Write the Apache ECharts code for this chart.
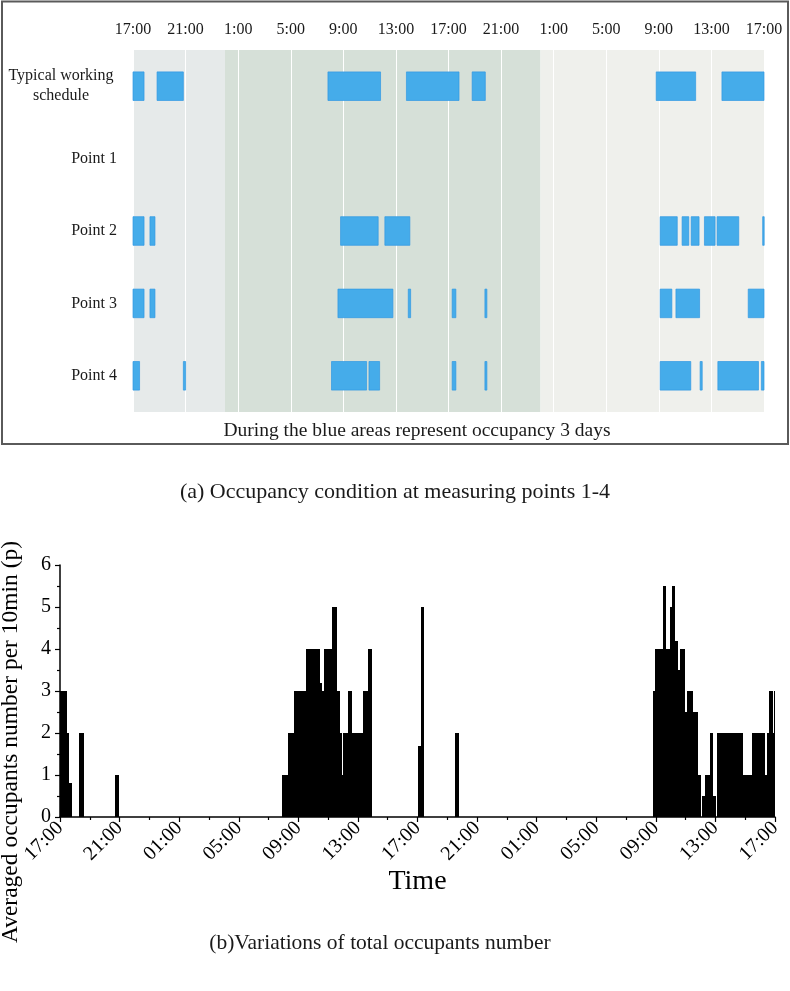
<!DOCTYPE html>
<html>
<head>
<meta charset="utf-8">
<title>Occupancy at measuring points</title>
<script src="https://cdn.jsdelivr.net/npm/echarts@6/dist/echarts.min.js"></script>
<style>
  html, body { margin: 0; padding: 0; background: #fff; }
  #chart { width: 790px; height: 991px; }
</style>
</head>
<body>
<div id="chart"></div>
<script>
// all times are hours counted from 17:00 of the first day (0 .. 48)
const topTickLabels = ['17:00', '21:00', '1:00', '5:00', '9:00', '13:00', '17:00', '21:00', '1:00', '5:00', '9:00', '13:00', '17:00'];
const bottomTickLabels = ['17:00', '21:00', '01:00', '05:00', '09:00', '13:00', '17:00', '21:00', '01:00', '05:00', '09:00', '13:00', '17:00'];
const rowNames = ['Typical working\nschedule', 'Point 1', 'Point 2', 'Point 3', 'Point 4'];

// shaded day bands behind panel (a)
const dayBands = [[0, 7], [7, 31], [31, 48]];
const bandColors = ['#e6eaea', '#d6e0d8', '#eff0ec'];

// occupied periods [start, end]
const scheduleBlocks = [[0, 0.84], [1.83, 3.83], [14.83, 18.83], [20.8, 24.8], [25.8, 26.8], [39.8, 42.8], [44.8, 48]];
const point1Blocks = [];
const point2Blocks = [[0, 0.84], [1.29, 1.67], [15.79, 18.65], [19.16, 21.06], [40.1, 41.4], [41.77, 42.28], [42.46, 43.06], [43.47, 44.28], [44.43, 46.08], [47.9, 48]];
const point3Blocks = [[0, 0.84], [1.29, 1.67], [15.59, 19.77], [20.94, 21.12], [24.28, 24.56], [26.77, 26.92], [40.1, 40.99], [41.3, 43.1], [46.8, 48]];
const point4Blocks = [[0, 0.5], [3.83, 4.0], [15.1, 17.77], [17.95, 18.76], [24.28, 24.56], [26.77, 26.92], [40.1, 42.43], [43.14, 43.3], [44.49, 47.58], [47.8, 48]];

// averaged occupants per 10 min: [start, end, value]
const occupantsDay1 = [[0, 0.45, 3], [0.45, 0.6, 2], [0.6, 0.8, 0.8], [1.25, 1.63, 2], [3.71, 3.96, 1]];
const occupantsDay2 = [
  [14.88, 15.32, 1], [15.32, 15.7, 2], [15.7, 16.51, 3], [16.51, 17.45, 4], [17.45, 17.58, 3.2],
  [17.58, 17.72, 3], [17.72, 18.23, 4], [18.23, 18.59, 5], [18.59, 18.79, 3], [18.79, 18.92, 2],
  [18.92, 19.0, 1], [19.0, 19.35, 2], [19.35, 19.62, 3], [19.62, 20.36, 2], [20.36, 20.65, 3],
  [20.65, 20.92, 4], [24.0, 24.21, 1.7], [24.21, 24.43, 5], [26.53, 26.78, 2]
];
const occupantsDay3 = [
  [39.78, 39.93, 3], [39.93, 40.45, 4], [40.45, 40.67, 5.5], [40.67, 40.94, 4], [40.94, 41.09, 5],
  [41.09, 41.32, 5.5], [41.32, 41.5, 4.2], [41.5, 41.61, 3.5], [41.61, 41.99, 4], [41.99, 42.1, 2.5],
  [42.1, 42.5, 3], [42.5, 42.84, 2.5], [42.84, 43.02, 1], [43.07, 43.29, 0.5], [43.29, 43.62, 1],
  [43.62, 43.85, 2], [43.85, 44.03, 0.5], [44.11, 45.82, 2], [45.82, 46.46, 1], [46.46, 47.36, 2],
  [47.36, 47.45, 1], [47.45, 47.6, 2], [47.6, 47.87, 3], [47.87, 47.94, 2], [47.94, 48, 3]
];

const serif = '"Liberation Serif", "DejaVu Serif", serif';

const blockData = [];
[scheduleBlocks, point1Blocks, point2Blocks, point3Blocks, point4Blocks].forEach((blocks, row) => {
  blocks.forEach((b) => blockData.push([b[0], b[1], row]));
});
const occupantData = [...occupantsDay1, ...occupantsDay2, ...occupantsDay3];

const chart = echarts.init(document.getElementById('chart'), null, { renderer: 'canvas' });

const option = {
  animation: false,
  backgroundColor: '#fff',
  grid: [
    { left: 133, top: 50, width: 631, height: 362 },
    { left: 60, top: 565, width: 715, height: 252 }
  ],
  xAxis: [
    {
      gridIndex: 0,
      type: 'value',
      position: 'top',
      min: 0,
      max: 48,
      interval: 4,
      z: 1,
      axisLine: { show: false },
      axisTick: { show: false },
      splitLine: { show: true, lineStyle: { color: '#ffffff', width: 1 } },
      axisLabel: {
        margin: 12,
        color: '#1a1a1a',
        fontFamily: serif,
        fontSize: 16,
        formatter: (v) => topTickLabels[Math.round(v / 4)]
      }
    },
    {
      gridIndex: 1,
      type: 'value',
      min: 0,
      max: 48,
      interval: 4,
      name: 'Time',
      nameLocation: 'middle',
      nameGap: 35,
      nameTextStyle: { fontFamily: serif, fontSize: 28, color: '#000' },
      axisLine: { show: true, lineStyle: { color: '#000', width: 1.5 } },
      axisTick: { show: true, length: 5, lineStyle: { color: '#000', width: 1.2 } },
      minorTick: { show: true, splitNumber: 2, length: 3, lineStyle: { color: '#000', width: 1.2 } },
      splitLine: { show: false },
      axisLabel: {
        rotate: 45,
        margin: 8,
        color: '#000',
        fontFamily: serif,
        fontSize: 20,
        formatter: (v) => bottomTickLabels[Math.round(v / 4)]
      }
    }
  ],
  yAxis: [
    {
      gridIndex: 0,
      type: 'category',
      inverse: true,
      data: rowNames,
      axisLine: { show: false },
      axisTick: { show: false },
      splitLine: { show: false },
      axisLabel: {
        margin: 16,
        color: '#1a1a1a',
        fontFamily: serif,
        fontSize: 16,
        formatter: (v) => (v.indexOf('\n') >= 0 ? v.split('\n').map((s) => '{c|' + s + '}').join('\n') : v),
        rich: {
          c: { width: 112, align: 'center', fontFamily: serif, fontSize: 16, lineHeight: 20, color: '#1a1a1a' }
        }
      }
    },
    {
      gridIndex: 1,
      type: 'value',
      min: 0,
      max: 6,
      interval: 1,
      axisLine: { show: true, lineStyle: { color: '#000', width: 1.5 } },
      axisTick: { show: true, length: 5, lineStyle: { color: '#000', width: 1.2 } },
      minorTick: { show: true, splitNumber: 2, length: 3, lineStyle: { color: '#000', width: 1.2 } },
      splitLine: { show: false },
      axisLabel: { margin: 9, color: '#000', fontFamily: serif, fontSize: 20 }
    }
  ],
  series: [
    {
      // day shading
      type: 'custom',
      xAxisIndex: 0,
      yAxisIndex: 0,
      z: 0,
      silent: true,
      data: dayBands,
      encode: { x: [0, 1] },
      renderItem: (params, api) => {
        const cs = params.coordSys;
        const x0 = api.coord([api.value(0), 0])[0];
        const x1 = api.coord([api.value(1), 0])[0];
        return {
          type: 'rect',
          shape: { x: x0, y: cs.y, width: x1 - x0, height: cs.height },
          style: { fill: bandColors[params.dataIndex] }
        };
      }
    },
    {
      // occupancy blocks
      type: 'custom',
      xAxisIndex: 0,
      yAxisIndex: 0,
      z: 2,
      data: blockData,
      encode: { x: [0, 1], y: 2 },
      renderItem: (params, api) => {
        const p0 = api.coord([api.value(0), api.value(2)]);
        const p1 = api.coord([api.value(1), api.value(2)]);
        const h = api.size([0, 1])[1] * 0.395;
        return {
          type: 'rect',
          shape: { x: p0[0], y: p0[1] - h / 2, width: Math.max(p1[0] - p0[0], 1.5), height: h },
          style: { fill: '#45acea', stroke: '#3198e2', lineWidth: 0.7 }
        };
      }
    },
    {
      // occupants histogram, edges snapped to whole pixels so neighbours join
      type: 'custom',
      xAxisIndex: 1,
      yAxisIndex: 1,
      z: 2,
      data: occupantData,
      encode: { x: [0, 1], y: 2 },
      renderItem: (params, api) => {
        const top = api.coord([api.value(0), api.value(2)]);
        const base = api.coord([api.value(1), 0]);
        const x0 = Math.round(top[0]);
        const x1 = Math.max(Math.round(base[0]), x0 + 1);
        return {
          type: 'rect',
          shape: { x: x0, y: Math.round(top[1]), width: x1 - x0, height: base[1] - Math.round(top[1]) },
          style: { fill: '#000' }
        };
      }
    }
  ],
  graphic: [
    {
      type: 'rect',
      shape: { x: 2, y: 1.5, width: 786, height: 442.5 },
      style: { fill: null, stroke: '#5a5a5a', lineWidth: 2 },
      z: 10
    },
    {
      type: 'text',
      x: 417,
      y: 431,
      style: {
        text: 'During the blue areas represent occupancy 3 days',
        fontFamily: serif, fontSize: 19.5, fill: '#1a1a1a',
        textAlign: 'center', textVerticalAlign: 'middle'
      }
    },
    {
      type: 'text',
      x: 395,
      y: 492,
      style: {
        text: '(a) Occupancy condition at measuring points 1-4',
        fontFamily: serif, fontSize: 22, fill: '#1a1a1a',
        textAlign: 'center', textVerticalAlign: 'middle'
      }
    },
    {
      type: 'text',
      x: 11,
      y: 742,
      rotation: Math.PI / 2,
      style: {
        text: 'Averaged occupants number per 10min (p)',
        fontFamily: serif, fontSize: 23.5, fill: '#000',
        textAlign: 'center', textVerticalAlign: 'middle'
      }
    },
    {
      type: 'text',
      x: 380,
      y: 943,
      style: {
        text: '(b)Variations of total occupants number',
        fontFamily: serif, fontSize: 21.5, fill: '#1a1a1a',
        textAlign: 'center', textVerticalAlign: 'middle'
      }
    }
  ]
};

chart.setOption(option);
</script>
</body>
</html>
